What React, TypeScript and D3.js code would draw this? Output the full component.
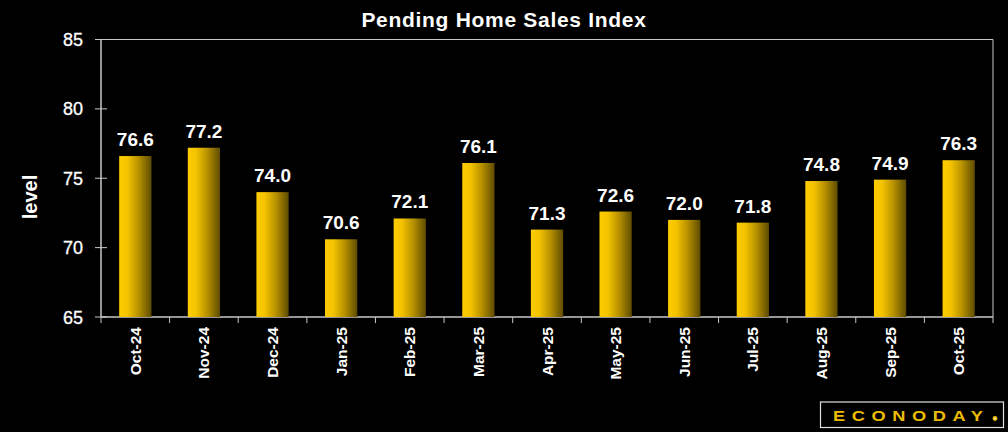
import React from "react";
import * as d3 from "d3";

const categories = ["Oct-24","Nov-24","Dec-24","Jan-25","Feb-25","Mar-25","Apr-25","May-25","Jun-25","Jul-25","Aug-25","Sep-25","Oct-25"];
const values = [76.6, 77.2, 74.0, 70.6, 72.1, 76.1, 71.3, 72.6, 72.0, 71.8, 74.8, 74.9, 76.3];
const yTicks = [65, 70, 75, 80, 85];
const title = "Pending Home Sales Index";
const yLabel = "level";

const W = 1008, H = 432;
const M = { left: 101, top: 39.5, right: 993, bottom: 317 };
const FONT = "'Liberation Sans', Arial, sans-serif";

export default function App() {
  const x = d3.scaleBand<string>().domain(categories).range([M.left, M.right]).paddingInner(0.53).paddingOuter(0.265);
  const xb = d3.scaleBand<string>().domain(categories).range([M.left, M.right]);
  const y = d3.scaleLinear().domain([65, 85]).range([M.bottom, M.top]);
  const axisColor = "#c8c8c8";
  return (
    <svg width={W} height={H} style={{ position: "absolute", left: 0, top: 0, background: "#000" }}>
      <defs>
        <linearGradient id="barGrad" x1="0" x2="1" y1="0" y2="0">
          <stop offset="0%" stopColor="#ffcc00" />
          <stop offset="25%" stopColor="#f5c400" />
          <stop offset="60%" stopColor="#b89200" />
          <stop offset="100%" stopColor="#5e4b00" />
        </linearGradient>
      </defs>
      <rect x={0} y={0} width={W} height={H} fill="#000" />
      <text x={504} y={27} textAnchor="middle" fill="#fff" fontFamily={FONT} fontWeight="bold" fontSize={21} letterSpacing={0.7}>{title}</text>
      {/* frame */}
      <line x1={M.left} x2={M.right} y1={M.top} y2={M.top} stroke={axisColor} />
      <line x1={M.right} x2={M.right} y1={M.top} y2={M.bottom} stroke={axisColor} />
      <line x1={M.left} x2={M.left} y1={M.top} y2={M.bottom} stroke={axisColor} strokeWidth={1.5} />
      <line x1={M.left} x2={M.right} y1={M.bottom} y2={M.bottom} stroke={axisColor} strokeWidth={1.5} />
      {yTicks.map(t => (
        <g key={t}>
          <line x1={M.left - 6} x2={M.left + 6} y1={y(t)} y2={y(t)} stroke={axisColor} />
          <text x={83} y={y(t) + 6.5} textAnchor="end" fill="#fff" fontFamily={FONT} fontSize={18} stroke="#fff" strokeWidth={0.3}>{t}</text>
        </g>
      ))}
      <text transform={`translate(37,${197}) rotate(-90)`} textAnchor="middle" fill="#fff" fontFamily={FONT} fontWeight="bold" fontSize={20}>{yLabel}</text>
      {categories.map((c) => (
        <line key={"t" + c} x1={xb(c)!} x2={xb(c)!} y1={M.bottom} y2={M.bottom + 6} stroke={axisColor} />
      ))}
      <line x1={M.right} x2={M.right} y1={M.bottom} y2={M.bottom + 6} stroke={axisColor} />
      {categories.map((c, i) => (
        <g key={c}>
          <rect x={x(c)!} y={y(values[i])} width={x.bandwidth()} height={M.bottom - y(values[i])} fill="url(#barGrad)" />
          <text x={x(c)! + x.bandwidth() / 2} y={y(values[i]) - 10} textAnchor="middle" fill="#fff" fontFamily={FONT} fontWeight="bold" fontSize={19}>{values[i].toFixed(1)}</text>
          <text transform={`translate(${xb(c)! + xb.bandwidth() / 2 + 5.5},${M.bottom + 10}) rotate(-90)`} textAnchor="end" fill="#fff" fontFamily={FONT} fontWeight="bold" fontSize={15.5}>{c}</text>
        </g>
      ))}
      {/* logo */}
      <rect x={820.5} y={402} width={183} height={25.5} fill="#000" stroke="#e0e0e0" strokeWidth={1.2} />
      <text transform="translate(833,420.5) scale(1.3,1)" x={0} y={0} fill="#ecbc00" fontFamily={FONT} fontWeight="bold" fontSize={14} letterSpacing={5.1}>ECONODAY</text>
      <circle cx={995} cy={418.5} r={2.4} fill="#ecbc00" />
      <circle cx={995} cy={418.5} r={1} fill="#fff3b0" />
    </svg>
  );
}
